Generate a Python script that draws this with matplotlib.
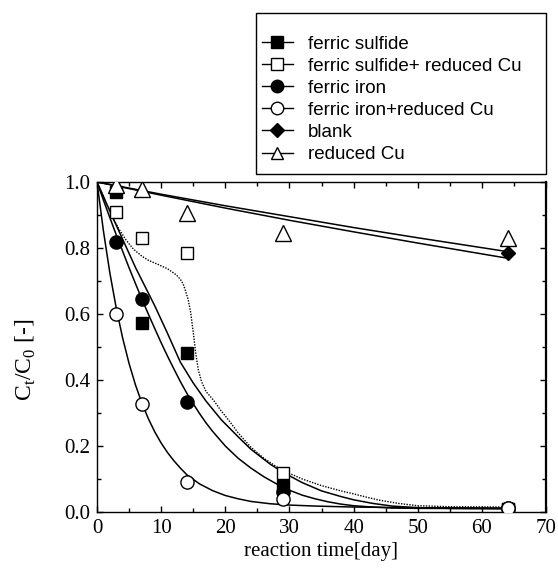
import matplotlib
matplotlib.use("Agg")
import matplotlib.pyplot as plt
from matplotlib.lines import Line2D
from matplotlib.patches import Rectangle

# ---------------- data ----------------
days = [3, 7, 14, 29, 64]
fs_y = [0.97, 0.572, 0.481, 0.08, 0.01]          # ferric sulfide
fsr_y = [0.91, 0.829, 0.786, 0.117, 0.01]        # ferric sulfide + reduced Cu
fi_y = [0.819, 0.645, 0.334, 0.06, 0.012]        # ferric iron
fir_y = [0.60, 0.327, 0.092, 0.039, 0.012]       # ferric iron + reduced Cu
blank_t = [64]
blank_y = [0.785]                                # blank
rcu_y = [0.99, 0.98, 0.905, 0.845, 0.83]         # reduced Cu

# fitted curves
cA_t = [0, 1, 2, 3, 4, 5, 6, 7, 8, 9, 10, 11, 12, 13, 14, 16, 18, 20, 22, 24,
        27, 30, 34, 40, 50, 64]
cA_y = [1.0, 0.852, 0.725, 0.618, 0.527, 0.45, 0.385, 0.33, 0.283, 0.243,
        0.209, 0.18, 0.155, 0.133, 0.113, 0.085, 0.065, 0.05, 0.04, 0.032,
        0.025, 0.021, 0.018, 0.015, 0.013, 0.012]
cB_t = [0, 1, 2, 3, 4, 5, 6, 7, 8, 9, 10, 11, 12, 13, 14, 15, 16, 17, 18, 20,
        22, 24, 26, 28, 30, 32, 34, 36, 38, 40, 43, 46, 50, 64]
cB_y = [1.0, 0.945, 0.892, 0.84, 0.79, 0.74, 0.692, 0.645, 0.6, 0.556, 0.513,
        0.472, 0.433, 0.395, 0.36, 0.328, 0.298, 0.27, 0.245, 0.2, 0.163,
        0.133, 0.107, 0.085, 0.066, 0.051, 0.04, 0.031, 0.024, 0.019, 0.015,
        0.012, 0.011, 0.01]
cC_t = [0, 3, 6, 9, 11, 13, 15, 17, 19.4, 22, 24, 27, 29, 32, 35, 38, 40, 43,
        46, 50, 55, 64]
cC_y = [1.0, 0.869, 0.741, 0.625, 0.541, 0.454, 0.391, 0.336, 0.279, 0.228,
        0.19, 0.145, 0.12, 0.089, 0.064, 0.047, 0.037, 0.026, 0.018, 0.013,
        0.011, 0.01]
cD_t = [0, 1, 2, 2.55, 3.5, 4.5, 5.66, 7, 8, 9.3, 11, 12.4, 13, 13.45, 13.8,
        14.2, 14.6, 15.0, 15.4, 15.8, 16.3, 17, 18.2, 19.3, 20.5, 22, 23.9,
        26, 28, 30, 32, 35, 38, 40, 42, 44, 47, 50, 55, 64]
cD_y = [1.0, 0.955, 0.91, 0.888, 0.855, 0.825, 0.797, 0.775, 0.763, 0.752,
        0.737, 0.718, 0.705, 0.69, 0.67, 0.645, 0.605, 0.545, 0.48, 0.43,
        0.395, 0.365, 0.338, 0.308, 0.279, 0.24, 0.198, 0.163, 0.137, 0.117,
        0.1, 0.08, 0.064, 0.055, 0.045, 0.036, 0.026, 0.019, 0.016, 0.015]
cE_t = [0, 10, 20, 30, 40, 50, 64]
cE_y = [1.0, 0.963, 0.928, 0.895, 0.862, 0.831, 0.789]
cF_t = [0, 10, 20, 30, 40, 50, 64]
cF_y = [1.0, 0.960, 0.921, 0.884, 0.849, 0.815, 0.769]

labels = ["ferric sulfide", "ferric sulfide+ reduced Cu", "ferric iron",
          "ferric iron+reduced Cu", "blank", "reduced Cu"]
xticks = [0, 10, 20, 30, 40, 50, 60, 70]
yticks = [0.0, 0.2, 0.4, 0.6, 0.8, 1.0]

# ---------------- figure ----------------
W, H = 558, 574
serif = "Liberation Serif"
fig = plt.figure(figsize=(W / 100, H / 100), dpi=100)
ax = fig.add_axes([97 / W, 1 - 512 / H, 449 / W, 330 / H])

lw = 1.1
for t, y in [(cA_t, cA_y), (cB_t, cB_y), (cC_t, cC_y), (cE_t, cE_y), (cF_t, cF_y)]:
    ax.plot(t, y, color="black", lw=lw, zorder=2, solid_joinstyle="round")
ax.plot(cD_t, cD_y, color="black", lw=1.0, ls=(0, (1, 1)), zorder=2)

ms_sq = 8.5
ms_c = 9.5
ax.plot(days, fsr_y, ls="none", marker="s", ms=ms_sq, mfc="white", mec="black", mew=1.0, zorder=3)
ax.plot(days, fs_y, ls="none", marker="s", ms=ms_sq, mfc="black", mec="black", zorder=4)
ax.plot(days, fi_y, ls="none", marker="o", ms=ms_c, mfc="black", mec="black", zorder=4)
ax.plot(days, fir_y, ls="none", marker="o", ms=ms_c, mfc="white", mec="black", mew=1.0, zorder=5)
ax.plot(blank_t, blank_y, ls="none", marker="D", ms=7.5, mfc="black", mec="black", zorder=4)
ax.plot(days, rcu_y, ls="none", marker="^", ms=11, mfc="white", mec="black", mew=1.0, zorder=4)

ax.set_xlim(0, 70)
ax.set_ylim(0, 1.0)
ax.set_xticks(xticks)
ax.set_yticks(yticks)
ax.set_xticklabels([str(v) for v in xticks], fontfamily=serif, fontsize=15)
ax.set_yticklabels([f"{v:.1f}" for v in yticks], fontfamily=serif, fontsize=15)
ax.set_xticks([5, 15, 25, 35, 45, 55, 65], minor=True)
ax.set_yticks([0.1, 0.3, 0.5, 0.7, 0.9], minor=True)
ax.tick_params(which="both", direction="in", top=True, right=True, width=1.0)
ax.tick_params(which="major", length=4.5, pad=5)
ax.tick_params(which="minor", length=3)
for s in ax.spines.values():
    s.set_linewidth(1.0)
ax.spines["right"].set_linewidth(1.6)

ax.set_xlabel("reaction time[day]", fontfamily=serif, fontsize=15, labelpad=3)
ax.set_ylabel(r"C$_\mathregular{t}$/C$_\mathregular{0}$ [-]", fontfamily=serif, fontsize=17)
ax.yaxis.set_label_coords(-0.131, 0.46)

handles = [
    Line2D([], [], color="black", lw=1.0, marker="s", ms=8, mfc="black", mec="black"),
    Line2D([], [], color="black", lw=1.0, marker="s", ms=8, mfc="white", mec="black"),
    Line2D([], [], color="black", lw=1.0, marker="o", ms=9, mfc="black", mec="black"),
    Line2D([], [], color="black", lw=1.0, marker="o", ms=9, mfc="white", mec="black"),
    Line2D([], [], color="black", lw=1.0, marker="D", ms=7, mfc="black", mec="black"),
    Line2D([], [], color="black", lw=1.0, marker="^", ms=9, mfc="white", mec="black"),
]
leg = fig.legend(handles, labels, loc="upper left",
                 bbox_to_anchor=(262 / W, 1 - 35.5 / H),
                 bbox_transform=fig.transFigure,
                 prop={"family": "Liberation Sans", "size": 13.5},
                 frameon=False, borderaxespad=0, borderpad=0,
                 handlelength=1.65, handletextpad=0.8, labelspacing=0.265)
fig.add_artist(Rectangle((256 / W, 1 - 174 / H), 290 / W, 161 / H,
                         transform=fig.transFigure, fill=False,
                         edgecolor="black", lw=1.0))

fig.savefig("out.png", dpi=100)
